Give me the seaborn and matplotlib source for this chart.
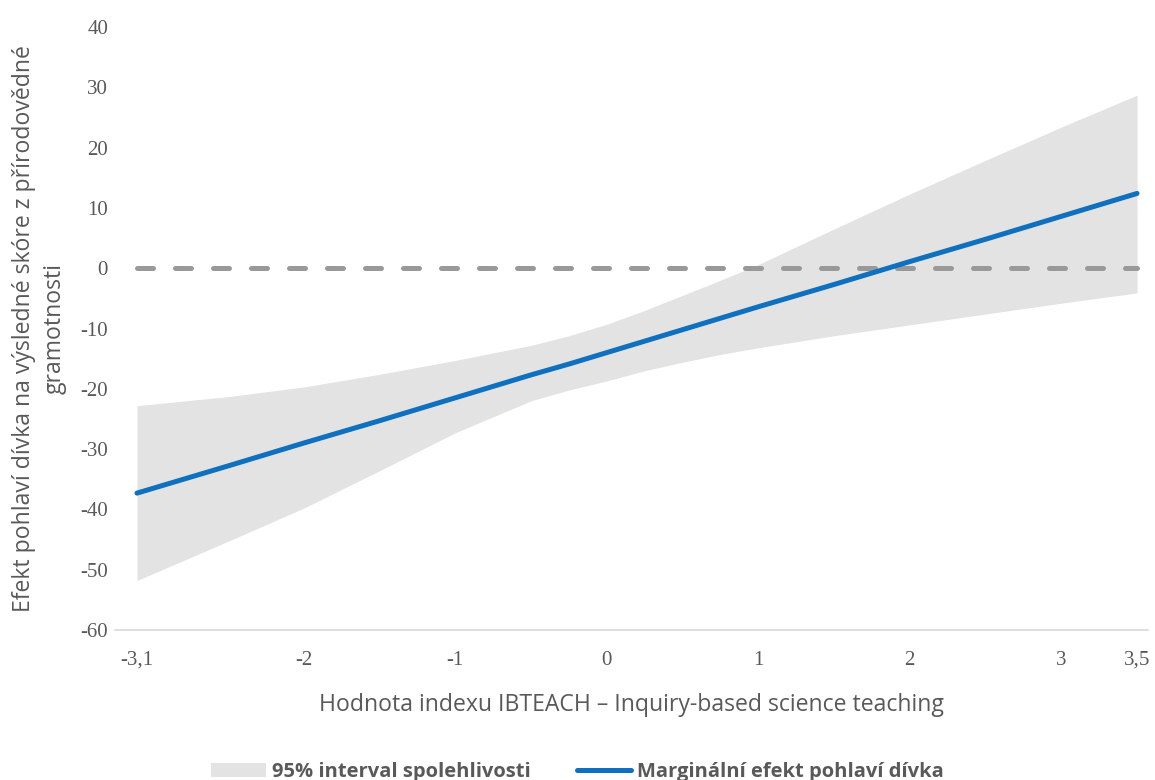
import matplotlib
matplotlib.use("Agg")
import matplotlib.pyplot as plt
import seaborn as sns
import pandas as pd
from matplotlib.patches import Patch
from matplotlib.lines import Line2D

# data
ibteach = [-3.1, -2.5, -2, -1.5, -1, -0.5, -0.25, 0, 0.25, 0.5, 0.75, 1, 1.5, 2, 2.5, 3, 3.5]
effect = [-37.3, -32.8, -29.0, -25.3, -21.5, -17.7, -15.9, -14.0, -12.1, -10.2, -8.3,
          -6.4, -2.7, 1.1, 4.8, 8.6, 12.4]
ci_upper = [-22.8, -21.3, -19.7, -17.6, -15.3, -12.8, -11.2, -9.3, -7.0, -4.5, -2.0,
            0.6, 6.5, 12.3, 17.9, 23.4, 28.7]
ci_lower = [-51.8, -45.3, -39.8, -33.6, -27.3, -22.0, -20.2, -18.7, -17.0, -15.6, -14.3,
            -13.2, -11.2, -9.4, -7.6, -5.8, -4.1]

x_ticks = [-3.1, -2, -1, 0, 1, 2, 3, 3.5]
x_ticklabels = ["-3,1", "-2", "-1", "0", "1", "2", "3", "3,5"]
y_ticks = [40, 30, 20, 10, 0, -10, -20, -30, -40, -50, -60]

df = pd.DataFrame({"IBTEACH": ibteach, "Efekt": effect,
                   "Horni": ci_upper, "Dolni": ci_lower})

sns.set_theme(style="white")
plt.rcParams["axes.unicode_minus"] = False
text_gray = "#595959"
blue = "#0E70BE"
band = "#E3E3E3"

fig = plt.figure(figsize=(11.55, 7.8), dpi=100)
ax = fig.add_axes([115 / 1155, 1 - 630 / 780, (1148 - 115) / 1155, (630 - 27) / 780])

# confidence band
ax.fill_between(df["IBTEACH"], df["Dolni"], df["Horni"], color=band, lw=0, zorder=1)

# zero reference line
ax.plot([ibteach[0], ibteach[-1]], [0, 0], color="#999999", lw=3.6,
        dashes=(3.2, 4.4), dash_capstyle="round", zorder=2)

# marginal effect
sns.lineplot(data=df, x="IBTEACH", y="Efekt", color=blue, lw=3.6, ax=ax,
             solid_capstyle="round", zorder=3)

ax.set_xlim(-3.245, 3.572)
ax.set_ylim(-60, 40)
ax.set_xticks(x_ticks)
ax.set_xticklabels(x_ticklabels)
ax.set_yticks(y_ticks)
ax.set_yticklabels([str(v) for v in y_ticks])
ax.tick_params(axis="x", length=0, pad=15, labelsize=15, colors=text_gray)
ax.tick_params(axis="y", length=0, pad=5, labelsize=15, colors=text_gray)
for lab in ax.get_xticklabels() + ax.get_yticklabels():
    lab.set_family("Liberation Serif")

for s in ["top", "right", "left"]:
    ax.spines[s].set_visible(False)
ax.spines["bottom"].set_color("#D9D9D9")
ax.spines["bottom"].set_linewidth(1.2)

ax.set_xlabel("Hodnota indexu IBTEACH \u2013 Inquiry-based science teaching",
              fontsize=16.6, color=text_gray, family="Open Sans", labelpad=17)
ax.set_ylabel("Efekt pohlaví dívka na výsledné skóre z přírodovědné\ngramotnosti",
              fontsize=16.6, color=text_gray, family="Open Sans", labelpad=10,
              linespacing=1.35)

handles = [Patch(facecolor=band, edgecolor="none", label="95% interval spolehlivosti"),
           Line2D([0], [0], color=blue, lw=3.6, solid_capstyle="round",
                  label="Marginální efekt pohlaví dívka")]
leg = fig.legend(handles=handles, loc="center", bbox_to_anchor=(0.5, 1 - 772 / 780),
                 ncol=2, frameon=False, handlelength=2.7, handleheight=0.7,
                 handletextpad=0.3, columnspacing=2.3,
                 prop={"family": "Open Sans", "weight": "bold", "size": 14.5})
for t in leg.get_texts():
    t.set_color(text_gray)

fig.savefig("out.png", dpi=100)
